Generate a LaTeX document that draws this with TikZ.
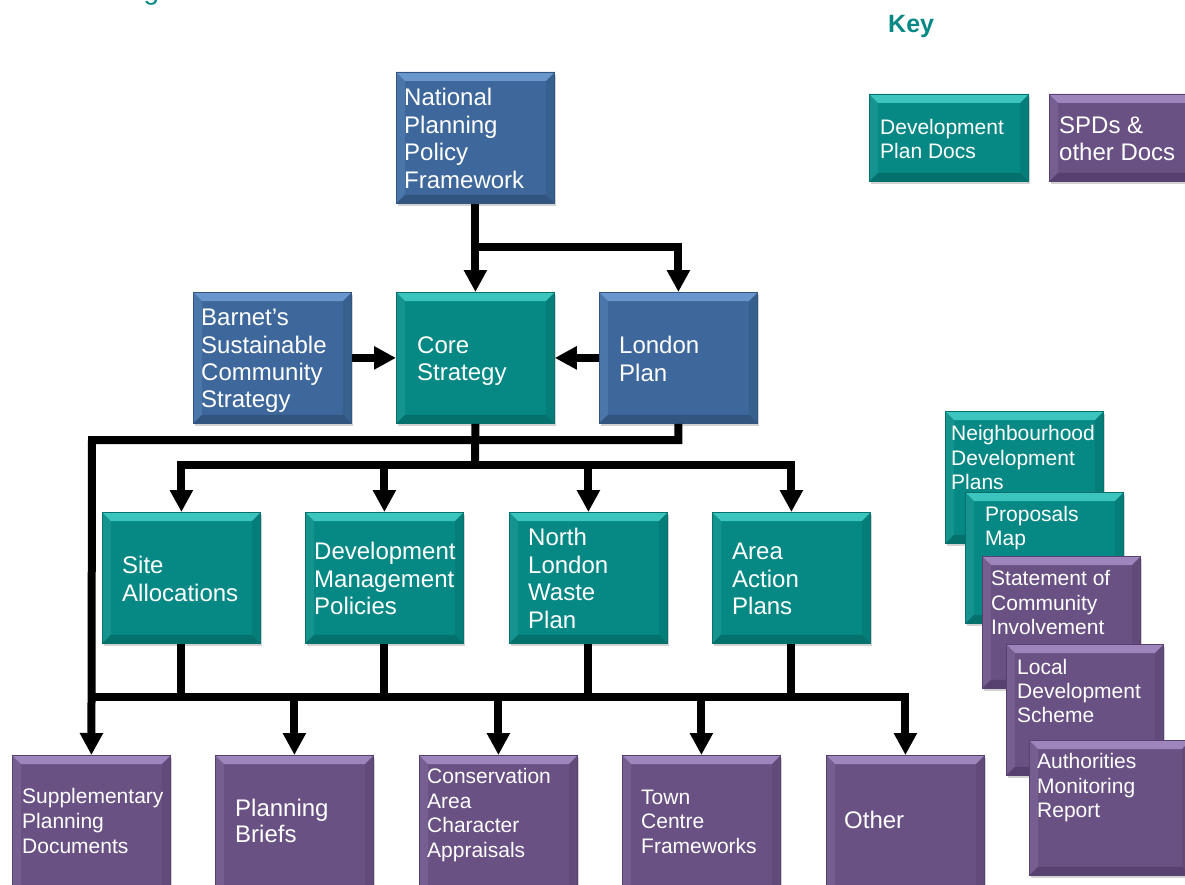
\documentclass[tikz,border=0pt]{standalone}
\usepackage{fontspec}
\setmainfont{Liberation Sans}
\usetikzlibrary{arrows.meta,shadows,calc}
\definecolor{tealM}{HTML}{068985}
\definecolor{tealL}{HTML}{3CC4BF}
\definecolor{tealS}{HTML}{15948F}
\definecolor{tealR}{HTML}{057E7A}
\definecolor{tealD}{HTML}{05716D}
\definecolor{blueM}{HTML}{3E689B}
\definecolor{blueL}{HTML}{6A96CE}
\definecolor{blueS}{HTML}{4A76AA}
\definecolor{blueR}{HTML}{38608F}
\definecolor{blueD}{HTML}{32557F}
\definecolor{purM}{HTML}{6A5184}
\definecolor{purL}{HTML}{9E86BC}
\definecolor{purS}{HTML}{765E90}
\definecolor{purR}{HTML}{624A7A}
\definecolor{purD}{HTML}{574170}
\newcommand{\bev}[2]{%
  \fill[#2S] (#1.north west) -- ([shift={(9,9)}]#1.north west) -- ([shift={(9,-9)}]#1.south west) -- (#1.south west) -- cycle;
  \fill[#2R] (#1.north east) -- ([shift={(-9,9)}]#1.north east) -- ([shift={(-9,-9)}]#1.south east) -- (#1.south east) -- cycle;
  \fill[#2L] (#1.north west) -- (#1.north east) -- ([shift={(-9,9)}]#1.north east) -- ([shift={(9,9)}]#1.north west) -- cycle;
  \fill[#2D] (#1.south west) -- (#1.south east) -- ([shift={(-9,-9)}]#1.south east) -- ([shift={(9,-9)}]#1.south west) -- cycle;
  \draw[#2D, line width=0.8] (#1.north west) rectangle (#1.south east);}
\newcommand{\bx}[6]{%
  \node[box=#6, minimum width={#4-#2}, minimum height={#5-#3}] (#1) at (#2,#3) {};
  \bev{#1}{#6}}
\tikzset{
  box/.style={fill=#1M, draw=#1D, line width=0.8, anchor=north west, inner sep=0,
    drop shadow={shadow xshift=2pt, shadow yshift=-3pt, opacity=0.35}},
  lbl/.style={anchor=west, inner sep=0, text=white, align=left},
  big/.style={font=\fontsize{24}{27.4}\selectfont},
  small/.style={font=\fontsize{21}{24.5}\selectfont},
  wire/.style={line width=8, black},
  arr/.style={wire, -{Triangle[width=22pt,length=22pt]}}
}
\begin{document}
\begin{tikzpicture}[x=1pt,y=-1pt]
\useasboundingbox (0,0) rectangle (1185,885);
\clip (0,0) rectangle (1185,885);
\fill[white] (0,0) rectangle (1185,885);

% clipped title
\node[anchor=base west, inner sep=0, text=tealM, font=\fontsize{28}{30}\selectfont] (title) at (120,0) {Figure 3: The Local Plan Documents};

% key
\node[anchor=west, inner sep=0, text=tealM, font=\fontsize{25}{28}\bfseries\selectfont] (key) at (888,26) {Key};
\bx{kdp}{869}{94}{1028}{181}{teal}
\node[lbl, small, font=\fontsize{21}{24}\selectfont] (kdpt) at (880,139) {Development\\Plan Docs};
\bx{kspd}{1049}{94}{1195}{181}{pur}
\node[lbl, big, font=\fontsize{24}{27}\selectfont] (kspdt) at (1059,138.5) {SPDs \&\\other Docs};

% top level
\bx{nppf}{396}{72}{554}{203}{blue}
\node[lbl, big] (nppft) at (404,138.5) {National\\Planning\\Policy\\Framework};
\bx{cs}{396}{292}{554}{423}{teal}
\node[lbl, big] (cst) at (417,361) {Core\\Strategy};
\bx{lp}{599}{292}{757}{423}{blue}
\node[lbl, big] (lpt) at (619,359) {London\\Plan};
\bx{bscs}{193}{292}{351}{423}{blue}
\node[lbl, big] (bscst) at (201,361) {Barnet’s\\Sustainable\\Community\\Strategy};

% middle level
\bx{sa}{102}{512}{260}{643}{teal}
\node[lbl, big] (sat) at (122,579) {Site\\Allocations};
\bx{dmp}{305}{512}{463}{643}{teal}
\node[lbl, big] (dmpt) at (314,578.5) {Development\\Management\\Policies};
\bx{nlwp}{509}{512}{667}{643}{teal}
\node[lbl, big] (nlwpt) at (528,578.5) {North\\London\\Waste\\Plan};
\bx{aap}{712}{512}{870}{643}{teal}
\node[lbl, big] (aapt) at (732,579) {Area\\Action\\Plans};

% bottom level
\bx{spd}{12}{755}{170}{895}{pur}
\node[lbl, small, font=\fontsize{21}{25}\selectfont] (spdt) at (22,821) {Supplementary\\Planning\\Documents};
\bx{pb}{215}{755}{373}{895}{pur}
\node[lbl, big, font=\fontsize{24}{26}\selectfont] (pbt) at (235,821) {Planning\\Briefs};
\bx{caa}{419}{755}{577}{895}{pur}
\node[lbl, small] (caat) at (427,815) {Conservation\\Area\\Character\\Appraisals};
\bx{tc}{622}{755}{780}{895}{pur}
\node[lbl, small] (tct) at (641,821.5) {Town\\Centre\\Frameworks};
\bx{oth}{826}{755}{984}{895}{pur}
\node[lbl, big] (otht) at (844,820) {Other};

% right stack
\bx{ndp}{945}{411}{1103}{543}{teal}
\node[lbl, small] (ndpt) at (951,457.5) {Neighbourhood\\Development\\Plans};
\bx{pm}{965}{492}{1123}{623}{teal}
\node[lbl, small, font=\fontsize{21}{24}\selectfont] (pmt) at (985,528.5) {Proposals\\Map};
\bx{sci}{982}{556}{1140}{688}{pur}
\node[lbl, small] (scit) at (991,602.5) {Statement of\\Community\\Involvement};
\bx{lds}{1006}{644}{1163}{775}{pur}
\node[lbl, small, font=\fontsize{21}{24}\selectfont] (ldst) at (1017,691) {Local\\Development\\Scheme};
\bx{amr}{1029}{740}{1190}{875}{pur}
\node[lbl, small] (amrt) at (1037,788) {Authorities\\Monitoring\\Report};

% connectors
\coordinate (j1) at (475,247);
\coordinate (j2) at (475,465);
\coordinate (j3) at (92,440);
\coordinate (j4) at (92,697);

\draw[arr] (nppf.south) -- (cs.north);
\draw[arr] (j1) -| (lp.north);
\draw[arr] (bscs.east) -- (cs.west);
\draw[arr] (lp.west) -- (cs.east);

\draw[arr] (lp.south) |- (j3) -- (spd.north);
\draw[wire] (cs.south) -- (j2);
\draw[arr] (j2) -| (sa.north);
\draw[arr] (j2) -| (aap.north);
\draw[arr] (dmp.north |- j2) -- (dmp.north);
\draw[arr] (nlwp.north |- j2) -- (nlwp.north);

\draw[wire] (sa.south) -- (sa.south |- j4);
\draw[wire] (dmp.south) -- (dmp.south |- j4);
\draw[wire] (nlwp.south) -- (nlwp.south |- j4);
\draw[wire] (aap.south) -- (aap.south |- j4);
\draw[arr] (j4) -| (oth.north);
\draw[arr] (pb.north |- j4) -- (pb.north);
\draw[arr] (caa.north |- j4) -- (caa.north);
\draw[arr] (tc.north |- j4) -- (tc.north);
\end{tikzpicture}
\end{document}
